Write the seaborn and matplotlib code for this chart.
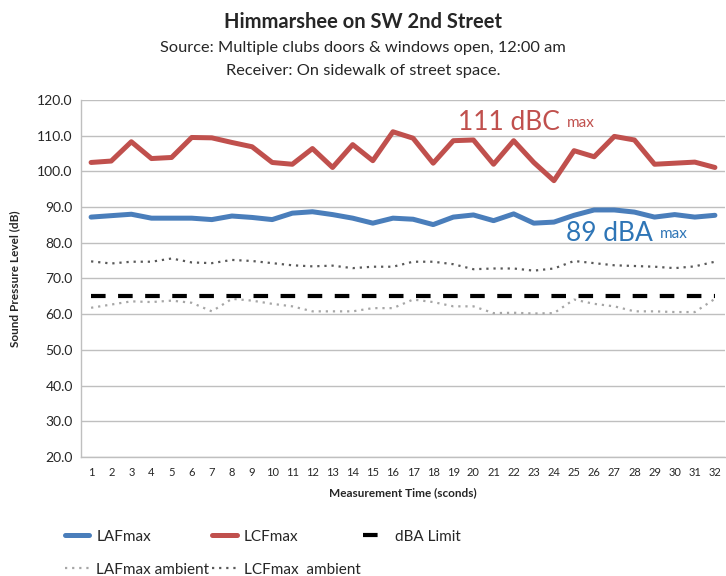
import numpy as np
import pandas as pd
import matplotlib
matplotlib.use("Agg")
import matplotlib.pyplot as plt
import seaborn as sns

# data
seconds = list(range(1, 33))
laf_max = [87.2, 87.6, 88.0, 86.9, 86.9, 86.9, 86.5, 87.5, 87.1, 86.5, 88.3, 88.7,
           87.9, 86.9, 85.5, 86.9, 86.6, 85.1, 87.2, 87.8, 86.2, 88.1, 85.5, 85.8,
           87.7, 89.2, 89.2, 88.6, 87.2, 87.9, 87.2, 87.7]
lcf_max = [102.5, 102.9, 108.3, 103.6, 103.9, 109.5, 109.4, 108.1, 106.9, 102.5, 102.0, 106.4,
           101.1, 107.5, 103.0, 111.1, 109.3, 102.3, 108.6, 108.8, 102.0, 108.6, 102.5, 97.4,
           105.8, 104.1, 109.8, 108.8, 102.0, 102.3, 102.6, 101.1]
laf_ambient = [61.8, 62.7, 63.6, 63.4, 63.8, 63.2, 60.8, 64.3, 63.8, 62.9, 62.2, 60.8,
               60.8, 60.8, 61.7, 61.7, 64.1, 63.4, 62.2, 62.2, 60.3, 60.4, 60.2, 60.3,
               64.1, 62.9, 62.2, 60.8, 60.8, 60.6, 60.6, 64.3]
lcf_ambient = [74.8, 74.2, 74.7, 74.7, 75.6, 74.5, 74.3, 75.2, 74.9, 74.3, 73.7, 73.4,
               73.6, 72.9, 73.3, 73.3, 74.7, 74.7, 74.0, 72.6, 72.8, 72.8, 72.2, 72.8,
               74.9, 74.3, 73.7, 73.5, 73.3, 72.9, 73.4, 74.7]
dba_limit = [65.0] * 32

blue = '#4a7ebb'
red = '#c0504d'
grid_grey = '#bfbfbf'

sns.set_style("whitegrid")
plt.rcParams['font.family'] = ['Lato', 'DejaVu Sans']

fig = plt.figure(figsize=(7.26, 5.76), dpi=100)
ax = fig.add_axes([0.1116, 0.2066, 0.8870, 0.6198])

sns.lineplot(x=seconds, y=laf_max, ax=ax, color=blue, lw=3.6, label='LAFmax')
sns.lineplot(x=seconds, y=lcf_max, ax=ax, color=red, lw=3.6, label='LCFmax')
sns.lineplot(x=seconds, y=dba_limit, ax=ax, color='black', lw=3, label='dBA Limit')
sns.lineplot(x=seconds, y=laf_ambient, ax=ax, color='#a6a6a6', lw=1.6, label='LAFmax ambient')
sns.lineplot(x=seconds, y=lcf_ambient, ax=ax, color='#595959', lw=1.6, label='LCFmax  ambient')

lines = ax.get_lines()
lines[2].set_dashes((3.5, 3.0))
lines[3].set_dashes((1, 2.2))
lines[4].set_dashes((1, 2.2))
for ln in lines[:2]:
    ln.set_solid_joinstyle('round')

ax.set_xlim(0.5, 32.5)
ax.set_ylim(20, 120)
ax.set_xticks(seconds)
ax.set_yticks(np.arange(20, 121, 10))
ax.set_yticklabels([f'{v:.1f}' for v in np.arange(20, 121, 10)], fontsize=10)
ax.tick_params(axis='x', labelsize=8, length=0, pad=7)
ax.tick_params(axis='y', length=0, pad=6)
ax.grid(axis='y', color=grid_grey, lw=1)
ax.grid(axis='x', visible=False)
for side in ['top', 'right']:
    ax.spines[side].set_visible(False)
for side in ['left', 'bottom']:
    ax.spines[side].set_color(grid_grey)
    ax.spines[side].set_linewidth(1)

ax.set_xlabel('Measurement Time (sconds)', fontsize=8.5, fontweight='bold', labelpad=7)
ax.set_ylabel('Sound Pressure Level (dB)', fontsize=8.5, fontweight='bold', labelpad=12)

# annotations
t1 = ax.text(19.25, 111.7, '111 dBC', color=red, fontsize=19, va='baseline')
ax.annotate('max', xy=(1, 0), xycoords=t1, xytext=(5, 3), textcoords='offset points',
            color=red, fontsize=11, va='bottom')
t2 = ax.text(24.6, 80.6, '89 dBA', color='#2e75b6', fontsize=19, va='baseline')
ax.annotate('max', xy=(1, 0), xycoords=t2, xytext=(5, 3), textcoords='offset points',
            color='#2e75b6', fontsize=11, va='bottom')

# titles
fig.text(0.5, 0.962, 'Himmarshee on SW 2nd Street', ha='center', va='center',
         fontsize=14.5, fontweight='bold')
fig.text(0.5, 0.916, 'Source: Multiple clubs doors & windows open, 12:00 am',
         ha='center', va='center', fontsize=11.8)
fig.text(0.5, 0.876, 'Receiver: On sidewalk of street space.',
         ha='center', va='center', fontsize=11.8)

# legend, row-major order
h, lab = ax.get_legend_handles_labels()
order = [0, 3, 1, 4, 2]
ax.get_legend().remove()
fig.legend([h[i] for i in order], [lab[i] for i in order], ncol=3,
           loc='upper left', bbox_to_anchor=(0.081, 0.091), borderaxespad=0,
           frameon=False, fontsize=11, handlelength=1.6, columnspacing=0.2,
           labelspacing=1.25, handletextpad=0.45)

fig.savefig('out.png', dpi=100)
